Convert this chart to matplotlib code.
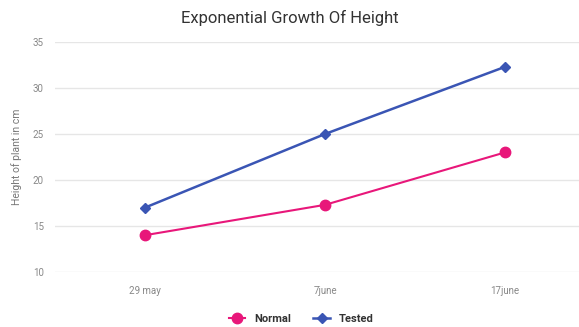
import matplotlib
matplotlib.use("Agg")
import matplotlib.pyplot as plt

dates = ["29 may", "7june", "17june"]
normal = [14.0, 17.3, 23.0]
tested = [17.0, 25.0, 32.3]
y_ticks = [10, 15, 20, 25, 30, 35]

plt.rcParams['font.family'] = ['Roboto', 'DejaVu Sans']

fig = plt.figure(figsize=(5.79, 3.27), dpi=100)
ax = fig.add_axes([55 / 579, 55 / 327, 1 - 55 / 579, 230 / 327])

x = range(len(dates))
ax.plot(x, normal, color='#e8177a', lw=1.5, marker='o', ms=7.5, label='Normal')
ax.plot(x, tested, color='#3a55b4', lw=1.8, marker='D', ms=5.5, label='Tested')

ax.set_xlim(-0.5, 2.411)
ax.set_ylim(10, 35)
ax.set_yticks(y_ticks)
ax.set_xticks(list(x))
ax.set_xticklabels(dates)
ax.tick_params(length=0, labelsize=7, colors='#888888', pad=8)
ax.tick_params(axis='x', pad=10)
ax.grid(axis='y', color='#e6e6e6', lw=1)
ax.set_axisbelow(True)
for s in ax.spines.values():
    s.set_visible(False)
ax.set_ylabel('Height of plant in cm', fontsize=7.5, color='#777777', labelpad=8)

fig.text(0.5, 0.945, 'Exponential Growth Of Height', ha='center', va='center',
         fontsize=12, color='#333333')

leg = fig.legend(loc='lower center', bbox_to_anchor=(0.52, -0.02), ncol=2,
                 frameon=False, handlelength=1.5, columnspacing=2.0,
                 prop={'weight': 'bold', 'size': 8})
for t in leg.get_texts():
    t.set_color('#333333')

fig.savefig('out.png', dpi=100)
